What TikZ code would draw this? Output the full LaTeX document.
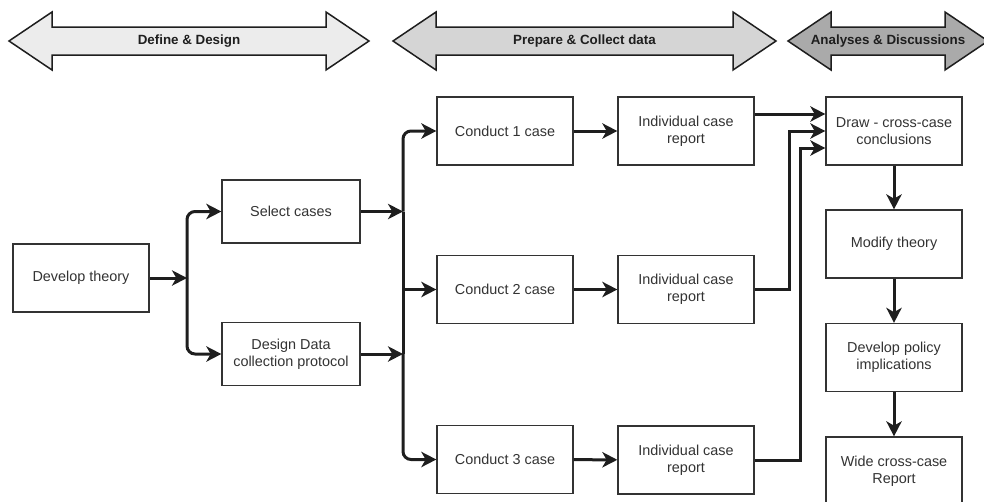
\documentclass[tikz,border=0pt]{standalone}
\usepackage{fontspec}
\setmainfont{Liberation Sans}
\usetikzlibrary{arrows.meta}
\usetikzlibrary{calc}
\usetikzlibrary{math}
\definecolor{boxline}{HTML}{333333}
\definecolor{txt}{HTML}{333333}
\definecolor{wire}{HTML}{1E1E1E}
\definecolor{ph1}{HTML}{ECECEC}
\definecolor{ph2}{HTML}{D5D5D5}
\definecolor{ph3}{HTML}{AAAAAA}
\tikzset{>={Stealth[length=4.5mm,width=4.6mm,inset=1.3mm]}}
\tikzset{
    box/.style={draw=boxline, line width=0.4mm, fill=white, text=txt, align=center,
        minimum width=4.08cm, minimum height=2.04cm, inner sep=2pt,
        font=\fontsize{12.3}{14.8}\selectfont},
    flow/.style={->, line width=0.9mm, draw=wire},
    phase/.style={draw=wire, line width=0.45mm, line join=miter},
}

\begin{document}
\begin{tikzpicture}[x=0.03cm, y=-0.03cm] % case study method
	\tikzmath{\hl = 43; \hh = 29; \sh = 14; \cy = 41;}
	\useasboundingbox (0,0) rectangle (984,501);
	\clip (0,0) rectangle (984,501);
	\foreach \xa/\xb/\col/\lbl [count=\i] in {9/369/ph1/Define \& Design, 393/776/ph2/Prepare \& Collect data, 788/988/ph3/Analyses \& Discussions}
	{
		\draw[phase, fill=\col] (\xa,\cy) -- (\xa+\hl,\cy-\hh) -- (\xa+\hl,\cy-\sh) -- (\xb-\hl,\cy-\sh) -- (\xb-\hl,\cy-\hh)
			-- (\xb,\cy) -- (\xb-\hl,\cy+\hh) -- (\xb-\hl,\cy+\sh) -- (\xa+\hl,\cy+\sh) -- (\xa+\hl,\cy+\hh) -- cycle;
		\node[font=\fontsize{11.4}{13}\selectfont\bfseries, text=wire] (ph\i) at ({(\xa+\xb)/2},\cy) {\lbl};
	}
	\node[box] (dev) at (81,278) {Develop theory};
	\node[box, minimum width=4.14cm, minimum height=1.89cm] (sel) at (291,211.5) {Select cases};
	\node[box, minimum width=4.14cm, minimum height=1.89cm] (des) at (291,354) {Design Data\\collection protocol};
	\node[box] (c1) at (505,131) {Conduct 1 case};
	\node[box] (c2) at (505,289.5) {Conduct 2 case};
	\node[box] (c3) at (505,459.5) {Conduct 3 case};
	\node[box] (r1) at (686,131) {Individual case\\report};
	\node[box] (r2) at (686,289.5) {Individual case\\report};
	\node[box] (r3) at (686,460) {Individual case\\report};
	\node[box] (drw) at (894,131) {Draw - cross-case\\conclusions};
	\node[box] (mod) at (894,244) {Modify theory};
	\node[box] (pol) at (894,357.5) {Develop policy\\implications};
	\node[box] (wide) at (894,471) {Wide cross-case\\Report};
	\coordinate (j1) at (187,278);
	\coordinate (j2) at (403,211.5);
	\coordinate (j3) at (403,354);
	\draw[flow] (dev) -- (j1);
	\draw[flow, rounded corners=2.4mm] (j1) |- (sel);
	\draw[flow, rounded corners=2.4mm] (j1) |- (des);
	\draw[flow] (sel) -- (j2);
	\draw[flow] (des) -- (j3);
	\draw[flow, -] (j2) -- (j3);
	\draw[flow, rounded corners=2.4mm] (j2) |- (c1);
	\draw[flow, rounded corners=2.4mm] (j3) |- (c3);
	\draw[flow] (j2 |- c2) -- (c2);
	\draw[flow] (c1) -- (r1);
	\draw[flow] (c2) -- (r2);
	\draw[flow] (c3) -- (r3);
	\draw[flow] ($(r1.east)+(0,-17)$) -- ($(drw.west)+(0,-17)$);
	\draw[flow] (r2.east) -- ++(35,0) |- (drw);
	\draw[flow] (r3.east) -- ++(46,0) |- ($(drw.west)+(0,17)$);
	\draw[flow] (drw) -- (mod);
	\draw[flow] (mod) -- (pol);
	\draw[flow] (pol) -- (wide);
\end{tikzpicture}
\end{document}
